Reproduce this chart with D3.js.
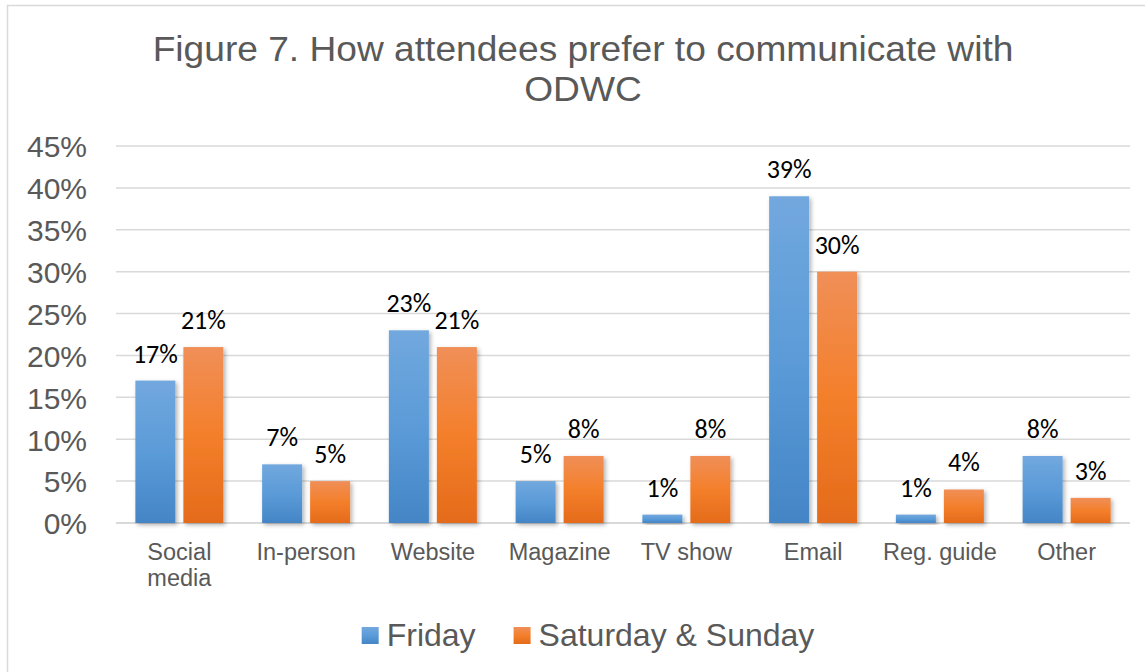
<!DOCTYPE html>
<html>
<head>
<meta charset="utf-8">
<script src="https://cdn.jsdelivr.net/npm/d3@7"></script>
<style>
  html, body { margin: 0; padding: 0; background: #fff; }
  svg { display: block; }
</style>
</head>
<body>
<svg id="chart" width="1145" height="672"></svg>
<script>
// Communication preferences by attendance day (share of respondents, %)
const categories = ["Social media", "In-person", "Website", "Magazine", "TV show", "Email", "Reg. guide", "Other"];
const seriesNames = ["Friday", "Saturday & Sunday"];
const fridayValues = [17, 7, 23, 5, 1, 39, 1, 8];
const weekendValues = [21, 5, 21, 8, 8, 30, 4, 3];
const yTicks = [0, 5, 10, 15, 20, 25, 30, 35, 40, 45];
const titleLines = ["Figure 7. How attendees prefer to communicate with", "ODWC"];

const seriesValues = [fridayValues, weekendValues];
const gradients = [
  { id: "gradBlue", top: "#72a8de", mid: "#5b9bd8", bottom: "#4485c6" },
  { id: "gradOrange", top: "#f08f58", mid: "#f47f2b", bottom: "#e46b1a" }
];

const svg = d3.select("#chart");
const margin = { left: 116, right: 1130, top: 146, bottom: 523 };

// defs: bar gradients and soft drop shadow
const defs = svg.append("defs");
gradients.forEach(g => {
  const lg = defs.append("linearGradient").attr("id", g.id)
    .attr("x1", 0).attr("y1", 0).attr("x2", 0).attr("y2", 1);
  lg.append("stop").attr("offset", "0%").attr("stop-color", g.top);
  lg.append("stop").attr("offset", "50%").attr("stop-color", g.mid);
  lg.append("stop").attr("offset", "100%").attr("stop-color", g.bottom);
});
const shadow = defs.append("filter").attr("id", "barShadow")
  .attr("x", "-20%").attr("y", "-10%").attr("width", "150%").attr("height", "130%");
shadow.append("feDropShadow").attr("dx", 2).attr("dy", 2)
  .attr("stdDeviation", 2).attr("flood-color", "#000").attr("flood-opacity", 0.3);

// chart frame
svg.append("rect").attr("x", 7.5).attr("y", 5.5).attr("width", 1160).attr("height", 700)
  .attr("fill", "#fff").attr("stroke", "#d9d9d9").attr("stroke-width", 1.5);

// title (condensed grey sans)
const title = svg.append("g").attr("transform", "translate(583,0)");
const t1 = title.append("text").attr("x", 0).attr("y", 61)
  .attr("text-anchor", "middle").attr("font-family", "Liberation Sans, Arial, sans-serif")
  .attr("font-size", 35).attr("fill", "#595959").text(titleLines[0]);
const natural = t1.node().getComputedTextLength();
const sx = 861 / natural;
t1.attr("transform", `scale(${sx},1)`);
title.append("text").attr("x", 0).attr("y", 101).attr("transform", `scale(${sx},1)`)
  .attr("text-anchor", "middle").attr("font-family", "Liberation Sans, Arial, sans-serif")
  .attr("font-size", 35).attr("fill", "#595959").text(titleLines[1]);

// scales
const x0 = d3.scaleBand().domain(categories).range([margin.left, margin.right]).padding(0);
const groupWidth = 88;
const x1 = d3.scaleBand().domain(seriesNames)
  .range([(x0.step() - groupWidth) / 2, (x0.step() + groupWidth) / 2])
  .paddingInner(8 / 48).paddingOuter(0);
const y = d3.scaleLinear().domain([0, 45]).range([margin.bottom, margin.top]);

// gridlines
svg.append("g").selectAll("line").data(yTicks).join("line")
  .attr("x1", margin.left).attr("x2", margin.right)
  .attr("y1", d => y(d)).attr("y2", d => y(d))
  .attr("stroke", "#d9d9d9").attr("stroke-width", d => d === 0 ? 2 : 1.5);

// y axis labels
const yAxis = svg.append("g").attr("transform", `translate(${margin.left - 29},0)`)
  .call(d3.axisLeft(y).tickValues(yTicks).tickFormat(d => d + "%").tickSize(0).tickPadding(0));
yAxis.select(".domain").remove();
yAxis.selectAll("text").attr("font-family", "Liberation Sans, Arial, sans-serif")
  .attr("font-size", 30).attr("fill", "#595959").attr("dy", "0.36em");

// bars
const groups = svg.append("g").selectAll("g").data(categories).join("g")
  .attr("transform", d => `translate(${x0(d)},0)`);
const barData = (c, i) => seriesNames.map((s, k) => ({ series: s, k, value: seriesValues[k][i] }));
groups.each(function(c, i) {
  const g = d3.select(this);
  const data = barData(c, i);
  g.selectAll("rect").data(data).join("rect")
    .attr("x", d => x1(d.series)).attr("width", x1.bandwidth())
    .attr("y", d => y(d.value)).attr("height", d => y(0) - y(d.value))
    .attr("fill", d => `url(#${gradients[d.k].id})`)
    .attr("filter", "url(#barShadow)");
  g.selectAll("text.val").data(data).join("text").attr("class", "val")
    .attr("x", d => x1(d.series) + x1.bandwidth() / 2)
    .attr("y", d => y(d.value) - 18)
    .attr("text-anchor", "middle")
    .attr("font-family", "Carlito, 'Open Sans', sans-serif")
    .attr("font-size", 26).attr("fill", "#000")
    .text(d => d.value + "%");
});

// category labels with wrapping
const xLabelFont = "Liberation Sans, Arial, sans-serif";
const xLabels = svg.append("g");
categories.forEach(c => {
  const cx = x0(c) + x0.step() / 2;
  const t = xLabels.append("text").attr("x", cx).attr("y", 560)
    .attr("text-anchor", "middle").attr("font-family", xLabelFont)
    .attr("font-size", 23.5).attr("fill", "#595959");
  const words = c.split(" ");
  t.text(c);
  if (t.node().getComputedTextLength() > x0.step() - 4 && words.length > 1) {
    t.text(null);
    let line = [];
    let tspan = t.append("tspan").attr("x", cx).attr("dy", 0);
    words.forEach(w => {
      line.push(w);
      tspan.text(line.join(" "));
      if (tspan.node().getComputedTextLength() > x0.step() - 4 && line.length > 1) {
        line.pop();
        tspan.text(line.join(" "));
        line = [w];
        tspan = t.append("tspan").attr("x", cx).attr("dy", 26).text(w);
      }
    });
  }
});

// legend
const legend = svg.append("g");
let lx = 0;
const legendGap = 38;
seriesNames.forEach((s, k) => {
  const item = legend.append("g").attr("transform", `translate(${lx},0)`);
  item.append("rect").attr("x", 0).attr("y", 627).attr("width", 17).attr("height", 17)
    .attr("fill", `url(#${gradients[k].id})`);
  const tx = item.append("text").attr("x", 25).attr("y", 646)
    .attr("font-family", "Liberation Sans, Arial, sans-serif")
    .attr("font-size", 32).attr("fill", "#595959").text(s);
  lx += 25 + tx.node().getComputedTextLength() + legendGap;
});
const legendWidth = lx - legendGap;
legend.attr("transform", `translate(${588 - legendWidth / 2},0)`);
</script>
</body>
</html>
